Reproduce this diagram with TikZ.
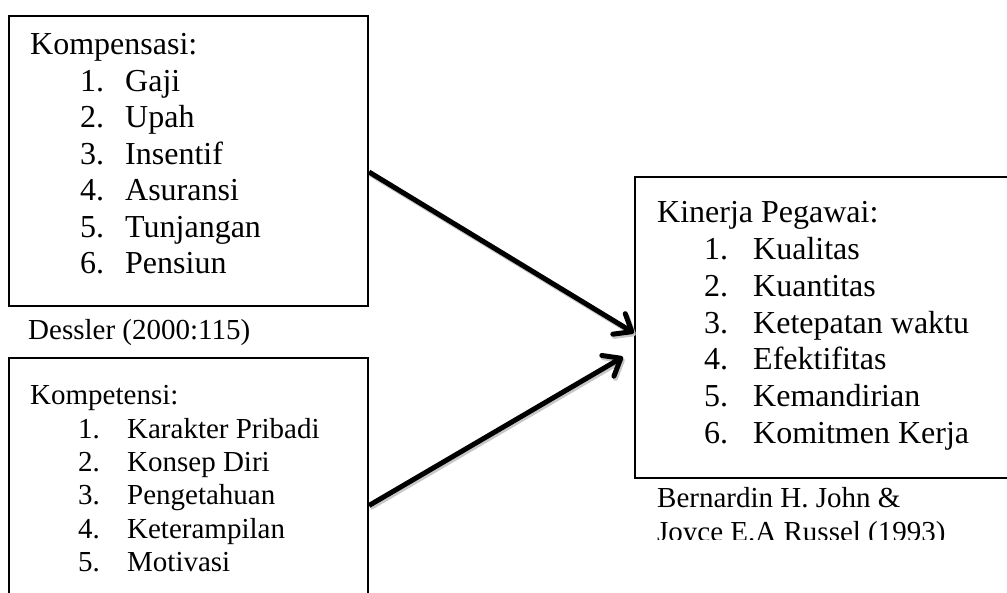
\documentclass[tikz,border=0pt]{standalone}
\usepackage{fontspec}
\setmainfont{Liberation Serif}
\usetikzlibrary{arrows.meta}
\begin{document}
\begin{tikzpicture}[x=1pt,y=-1pt,
  box/.style={draw, line width=2pt, inner sep=0pt, anchor=north west},
  big/.style={font=\fontsize{32}{36}\selectfont, anchor=base west, inner sep=0pt},
  small/.style={font=\fontsize{29}{33}\selectfont, anchor=base west, inner sep=0pt},
  conn/.style={line width=5pt, -{Straight Barb[length=15pt,width=24pt,line cap=round,line join=round]}},
  connshadow/.style={conn, draw=black!22, transform canvas={xshift=1.5pt,yshift=-2.2pt}}
]
\useasboundingbox (0,0) rectangle (1007,593);
\clip (0,0) rectangle (1007,593);

% boxes
\node[box, minimum width=359pt, minimum height=290pt] (box1) at (8,15) {};
\node[box, minimum width=359pt, minimum height=270pt] (box2) at (8,357) {};
\node[box, minimum width=400pt, minimum height=301pt] (box3) at (634,176) {};

% upper box text
\node[big] (komp) at (30,55) {Kompensasi:};
\foreach \t [count=\i] in {Gaji,Upah,Insentif,Asuransi,Tunjangan,Pensiun}
  \node[big] (komp\i) at (80,55+36.5*\i) {\makebox[45pt][l]{\i.}\t};

% caption
\node[small] (dessler) at (28,340) {Dessler (2000:115)};

% lower box text
\node[small] (kompt) at (30,405) {Kompetensi:};
\foreach \t [count=\i] in {Karakter Pribadi,Konsep Diri,Pengetahuan,Keterampilan,Motivasi}
  \node[small] (kompt\i) at (78,405+33.3*\i) {\makebox[49pt][l]{\i.}\t};

% right box text
\node[big] (kin) at (657,223) {Kinerja Pegawai:};
\foreach \t [count=\i] in {Kualitas,Kuantitas,Ketepatan waktu,Efektifitas,Kemandirian,Komitmen Kerja}
  \node[big] (kin\i) at (704,223+36.7*\i) {\makebox[49pt][l]{\i.}\t};

% right caption
\node[small] (bern) at (657,507) {Bernardin H. John \&};
\begin{scope}
  \clip (600,400) rectangle (1007,539.5);
  \node[small] (joyce) at (657,541) {Joyce E.A Russel (1993)};
\end{scope}

% connectors
\coordinate (y1) at (0,172);
\coordinate (y2) at (0,333);
\coordinate (y3) at (0,505.5);
\coordinate (s1) at (box1.east |- y1);
\coordinate (e1) at (box3.west |- y2);
\coordinate (s2) at (box2.east |- y3);
\coordinate (e2) at (623,357);
\draw[connshadow] (s1) -- (e1);
\draw[connshadow] (s2) -- (e2);
\draw[conn] (s1) -- (e1);
\draw[conn] (s2) -- (e2);
\end{tikzpicture}
\end{document}
